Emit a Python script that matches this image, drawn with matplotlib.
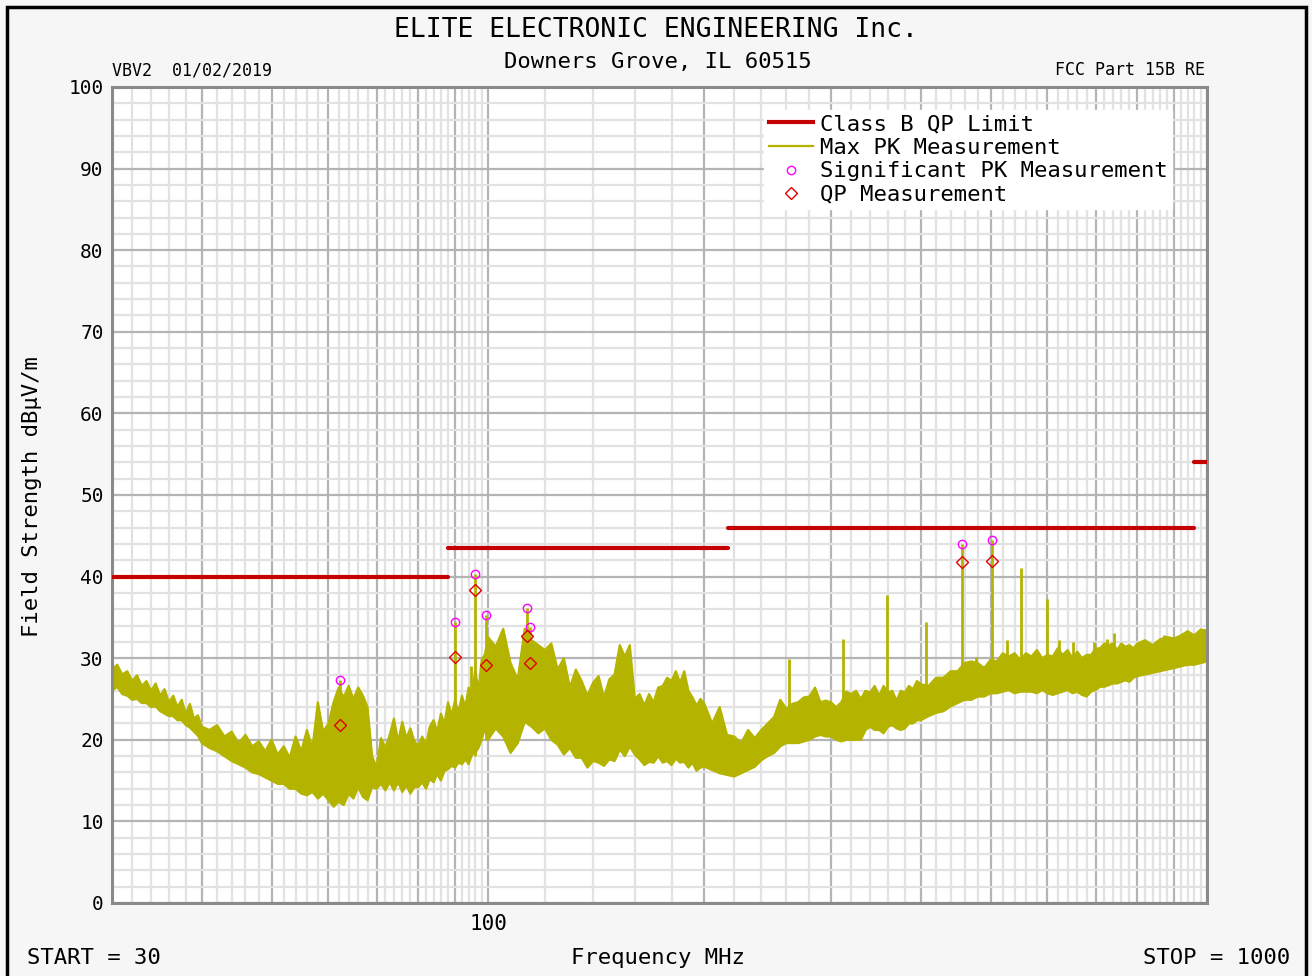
import numpy as np
import matplotlib
matplotlib.use("Agg")
import matplotlib.pyplot as plt
from matplotlib.lines import Line2D
from matplotlib.patches import Rectangle
from matplotlib.ticker import NullFormatter

plt.rcParams['font.family'] = ['DejaVu Sans Mono', 'DejaVu Sans']

pk_freq = [30, 30.5, 31, 31.5, 32, 32.5, 33, 33.5, 34, 34.5, 35, 35.5, 36, 36.5, 37, 37.5, 38, 38.5, 39, 39.5,
           40, 41, 42, 43, 44, 45, 46, 47, 48, 49, 50, 51, 52, 53, 54, 55, 56, 57, 58, 59,
           60, 61, 62, 63, 64, 65, 66, 67, 68, 69, 70, 71, 72, 73, 74, 75, 76, 77, 78, 79,
           80, 81, 82, 83, 84, 85, 86, 87, 88, 89, 90, 91, 92, 93, 94, 95, 96, 97, 98, 99,
           100, 102.5, 105, 107.5, 110, 112.5, 115, 117.5, 120, 122.5, 125, 127.5, 130, 132.5, 135, 137.5,
           140, 142.5, 145, 147.5, 150, 152.5, 155, 157.5, 160, 162.5, 165, 167.5, 170, 172.5, 175, 177.5,
           180, 182.5, 185, 187.5, 190, 192.5, 195, 197.5,
           200, 205, 210, 215, 220, 225, 230, 235, 240, 245, 250, 255, 260, 265, 270, 275, 280, 285, 290, 295,
           300, 305, 310, 315, 320, 325, 330, 335, 340, 345, 350, 355, 360, 365, 370, 375, 380, 385, 390, 395,
           400, 410, 420, 430, 440, 450, 460, 470, 480, 490, 500, 510, 520, 530, 540, 550, 560, 570, 580, 590,
           600, 610, 620, 630, 640, 650, 660, 670, 680, 690, 700, 710, 720, 730, 740, 750, 760, 770, 780, 790,
           800, 820, 840, 860, 880, 900, 920, 940, 960, 980, 1000]
pk_top = [28.6, 29.2, 28.0, 28.4, 27.2, 27.9, 26.6, 27.2, 26.0, 26.9, 25.4, 26.2, 24.6, 25.4, 24.0, 24.9, 23.2, 24.4, 22.6, 23.0,
          21.6, 21.2, 21.8, 20.4, 21.0, 19.6, 20.6, 19.2, 19.8, 18.6, 20.0, 18.2, 19.2, 17.8, 20.4, 18.6, 21.2, 19.0, 24.6, 21.0,
          22.0, 24.6, 26.4, 25.2, 26.6, 25.0, 26.4, 25.4, 24.0, 18.0, 16.6, 20.2, 19.0, 20.6, 22.6, 19.8, 22.2, 20.2, 21.4, 19.8,
          19.2, 20.4, 19.4, 21.6, 22.4, 21.0, 23.2, 22.0, 24.6, 23.0, 24.8, 23.4, 25.4, 24.0, 26.4, 25.4, 28.6, 26.0, 29.8, 30.4,
          32.6, 31.4, 33.6, 29.4, 27.4, 33.6, 32.2, 31.6, 31.0, 31.8, 28.6, 30.0, 26.4, 28.6, 27.2, 25.4,
          27.0, 27.8, 25.2, 27.4, 28.0, 31.6, 30.2, 31.6, 25.0, 25.6, 24.2, 25.6, 24.6, 26.4, 26.6, 27.6,
          27.2, 28.4, 27.0, 28.4, 26.0, 25.2, 24.2, 25.0,
          24.4, 22.0, 24.0, 20.6, 20.4, 19.6, 21.2, 20.2, 21.2, 22.0, 22.8, 24.9, 23.8, 24.4, 24.6, 25.2, 25.3, 26.4, 24.6, 24.8,
          24.6, 24.0, 24.6, 25.9, 25.6, 26.0, 25.0, 26.0, 25.8, 26.6, 25.4, 26.6, 25.8, 26.0, 24.8, 26.0, 25.8, 26.6, 26.2, 27.2,
          26.8, 26.6, 27.6, 27.6, 28.4, 28.4, 29.4, 29.6, 29.4, 28.8, 29.8, 29.6, 30.6, 30.2, 30.6, 29.8, 30.6, 30.2, 31.0, 30.0,
          30.4, 30.2, 31.2, 30.4, 31.0, 30.0, 30.8, 30.0, 30.4, 30.4, 31.2, 31.2, 31.8, 31.6, 31.8, 31.0, 31.8, 31.4, 31.6, 31.2,
          31.8, 32.2, 31.6, 32.3, 32.6, 32.4, 32.8, 33.3, 32.8, 33.5, 33.4]
pk_bot = [26.0, 26.5, 25.6, 25.4, 24.9, 25.0, 24.5, 24.5, 24.0, 24.1, 23.5, 23.2, 22.9, 22.9, 22.4, 22.4, 21.8, 21.5, 21.0, 20.5,
          19.6, 19.0, 18.6, 18.0, 17.4, 17.0, 16.6, 16.0, 15.8, 15.4, 15.0, 14.6, 14.6, 14.0, 14.0, 13.4, 13.2, 13.6, 12.8, 13.4,
          12.6, 11.8, 12.4, 12.0, 13.4, 12.8, 14.2, 13.0, 12.6, 14.2, 14.0, 14.6, 13.8, 14.8, 13.8, 14.8, 13.6, 14.4, 13.4, 14.2,
          14.2, 14.8, 14.0, 15.2, 14.8, 15.8, 15.0, 16.2, 16.4, 16.8, 16.6, 17.2, 17.0, 17.6, 17.0, 18.2, 18.4, 19.0, 20.0, 21.4,
          20.0, 21.4, 20.4, 18.4, 19.6, 22.2, 21.6, 20.8, 21.4, 20.0, 19.4, 18.2, 19.0, 17.8, 17.8, 16.6,
          17.4, 17.2, 16.8, 17.6, 17.4, 18.8, 18.0, 19.2, 18.2, 17.6, 16.9, 17.3, 17.2, 18.0, 17.2, 17.4,
          16.9, 17.7, 17.2, 17.3, 16.6, 17.2, 16.2, 16.6,
          16.7, 16.3, 15.9, 15.7, 15.5, 15.9, 16.3, 16.7, 17.5, 18.0, 18.4, 19.2, 19.6, 19.6, 19.6, 19.8, 20.0, 20.4, 20.6, 20.4,
          20.4, 20.0, 19.8, 20.0, 20.0, 20.0, 20.0, 21.2, 21.6, 21.2, 21.2, 20.8, 21.6, 21.8, 21.4, 21.2, 21.4, 22.0, 22.0, 22.4,
          22.4, 22.9, 23.3, 23.5, 24.1, 24.5, 24.9, 24.9, 25.3, 25.3, 25.7, 25.7, 25.9, 26.1, 25.7, 25.9, 25.9, 25.9, 25.7, 26.1,
          25.7, 25.5, 25.7, 25.9, 26.1, 25.7, 25.9, 25.5, 25.3, 25.9, 26.1, 26.5, 26.5, 26.7, 26.9, 26.9, 27.1, 27.3, 27.1, 27.6,
          27.8, 28.0, 28.2, 28.4, 28.6, 28.8, 29.0, 29.2, 29.2, 29.4, 29.6]

# narrow spurs standing out of the band
spur_freq = [62.3, 90.0, 94.7, 95.9, 99.4, 113.3, 114.4, 262.6, 311.5, 359.0, 406.3, 456.3,
             478.0, 502.9, 527.0, 551.0, 598.6, 622.6, 652.0, 697.0, 725.0, 742.0, 870.0]
spur_top = [27.3, 34.4, 29.0, 40.3, 35.3, 36.2, 33.8, 29.9, 32.4, 37.7, 34.4, 44.0,
            30.2, 44.5, 32.2, 41.0, 37.3, 32.2, 32.0, 32.0, 32.4, 33.1, 32.9]
spur_base = [14.0, 17.0, 18.0, 18.0, 20.0, 22.0, 22.0, 20.0, 21.0, 22.0, 23.0, 25.0,
             26.0, 26.0, 26.5, 26.5, 26.5, 26.5, 26.5, 27.0, 27.0, 27.5, 29.0]

# significant peaks and quasi-peak readings
sig_freq = [62.3, 90.0, 95.9, 99.4, 113.3, 114.4, 456.3, 502.9]
sig_pk = [27.3, 34.4, 40.3, 35.3, 36.2, 33.8, 44.0, 44.5]
sig_qp = [21.8, 30.1, 38.4, 29.2, 32.7, 29.4, 41.8, 41.9]

# FCC class B QP limit
lim_start = [30, 88, 216, 960]
lim_stop = [88, 216, 960, 1000]
lim_level = [40, 43.5, 46, 54]

trace_col = '#b4b400'
lim_col = '#c40000'

fig = plt.figure(figsize=(13.12, 9.76), dpi=100)
fig.patch.set_facecolor('#f6f6f6')
ax = fig.add_axes([0.08537, 0.0748, 0.8346, 0.8361])
ax.set_facecolor('white')

ax.set_xscale('log')
ax.set_xlim(30, 1000)
ax.set_ylim(0, 100)

maj_x = list(range(30, 101, 10)) + list(range(200, 1001, 100))
ax.set_xticks(maj_x)
ax.set_xticklabels(['100' if v == 100 else '' for v in maj_x])
min_x = list(range(32, 100, 2)) + list(range(120, 1000, 20))
ax.set_xticks(min_x, minor=True)
ax.xaxis.set_minor_formatter(NullFormatter())
ax.set_yticks(range(0, 101, 10))
ax.set_yticks(range(0, 101, 2), minor=True)
ax.grid(which='minor', color='#e2e2e2', lw=1.6, zorder=0)
ax.grid(which='major', color='#b4b4b4', lw=1.6, zorder=0.5)
ax.tick_params(which='both', length=0)
ax.tick_params(axis='y', labelsize=14, pad=6)
ax.tick_params(axis='x', labelsize=15, pad=8)
for s in ax.spines.values():
    s.set_color('#8a8a8a')
    s.set_linewidth(2.2)

ax.fill_between(pk_freq, pk_bot, pk_top, color=trace_col, lw=0, zorder=2)
ax.plot(pk_freq, pk_top, color=trace_col, lw=1.6, zorder=2)
ax.plot(pk_freq, pk_bot, color=trace_col, lw=1.6, zorder=2)
ax.vlines(spur_freq, spur_base, spur_top, color=trace_col, lw=2.0, zorder=2)

for a, b, v in zip(lim_start, lim_stop, lim_level):
    ax.plot([a, b], [v, v], color=lim_col, lw=3.0, solid_capstyle='round', zorder=3)

ax.plot(sig_freq, sig_pk, ls='none', marker='o', ms=6, mfc='none', mec='#ff00ff', mew=1.0, zorder=4)
ax.plot(sig_freq, sig_qp, ls='none', marker='D', ms=6, mfc='none', mec='#e00000', mew=1.0, zorder=4)

handles = [Line2D([], [], color=lim_col, lw=3),
           Line2D([], [], color=trace_col, lw=1.6),
           Line2D([], [], ls='none', marker='o', ms=6, mfc='none', mec='#ff00ff', mew=1.0),
           Line2D([], [], ls='none', marker='D', ms=6, mfc='none', mec='#e00000', mew=1.0)]
labels = ['Class B QP Limit', 'Max PK Measurement', 'Significant PK Measurement', 'QP Measurement']
leg = ax.legend(handles, labels, loc='upper right', bbox_to_anchor=(0.968, 0.972), fontsize=16,
                frameon=True, fancybox=False, framealpha=1, edgecolor='white', facecolor='white',
                handlelength=2.0, handletextpad=0.3, labelspacing=0.16, borderpad=0.2, borderaxespad=0)
leg.set_zorder(5)

fig.text(0.5, 0.969, 'ELITE ELECTRONIC ENGINEERING Inc.', ha='center', va='center', fontsize=19)
fig.text(0.5015, 0.9365, 'Downers Grove, IL 60515', ha='center', va='center', fontsize=16)
fig.text(0.0854, 0.928, 'VBV2  01/02/2019', ha='left', va='center', fontsize=12)
fig.text(0.9184, 0.928, 'FCC Part 15B RE', ha='right', va='center', fontsize=12)
fig.text(0.0244, 0.491, 'Field Strength dB\u00b5V/m', ha='center', va='center', rotation=90, fontsize=16)
fig.text(0.5015, 0.0184, 'Frequency MHz', ha='center', va='center', fontsize=16)
fig.text(0.0206, 0.0184, 'START = 30', ha='left', va='center', fontsize=16)
fig.text(0.983, 0.0184, 'STOP = 1000', ha='right', va='center', fontsize=16)

fig.patches.append(Rectangle((0.00534, -0.1), 0.99009, 1.09283, transform=fig.transFigure,
                             fill=False, edgecolor='black', lw=2.5, clip_on=False))

fig.savefig('out.png', dpi=100, facecolor=fig.get_facecolor())
